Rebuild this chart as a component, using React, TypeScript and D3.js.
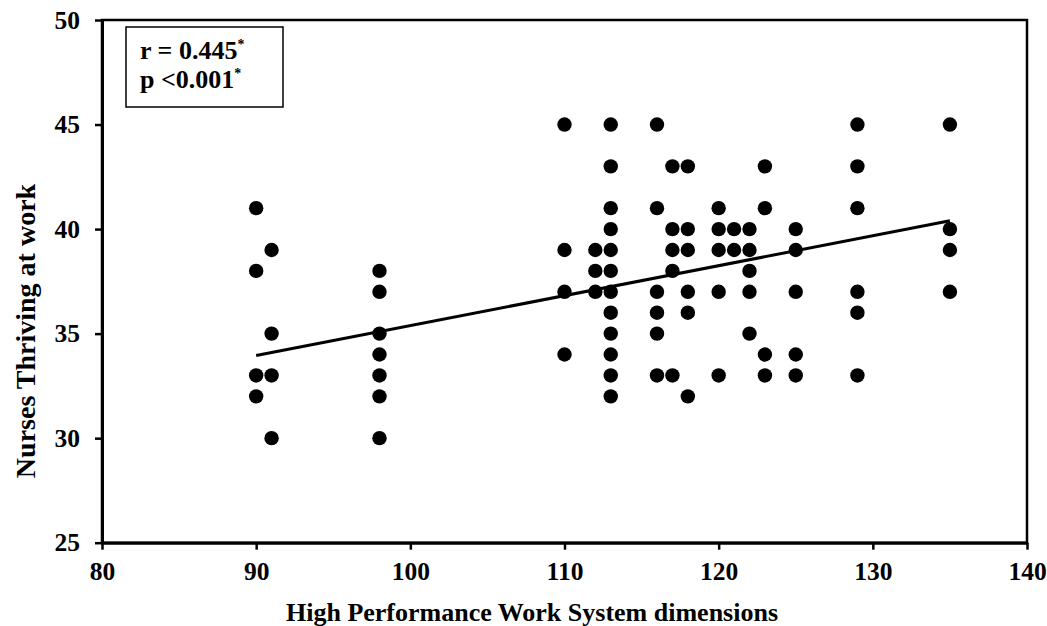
import React, { useEffect, useRef } from "react";
import * as d3 from "d3";

// HPWS score (x) and thriving score (y)
const hpws = [
  90, 90, 90, 90,
  91, 91, 91, 91,
  98, 98, 98, 98, 98, 98, 98,
  110, 110, 110, 110,
  112, 112, 112,
  113, 113, 113, 113, 113, 113, 113, 113, 113, 113, 113, 113,
  116, 116, 116, 116, 116, 116,
  117, 117, 117, 117, 117,
  118, 118, 118, 118, 118, 118,
  120, 120, 120, 120, 120,
  121, 121,
  122, 122, 122, 122, 122,
  123, 123, 123, 123,
  125, 125, 125, 125, 125,
  129, 129, 129, 129, 129, 129,
  135, 135, 135, 135,
];
const thriving = [
  41, 38, 33, 32,
  39, 35, 33, 30,
  38, 37, 35, 34, 33, 32, 30,
  45, 39, 37, 34,
  39, 38, 37,
  45, 43, 41, 40, 39, 38, 37, 36, 35, 34, 33, 32,
  45, 41, 37, 36, 35, 33,
  43, 40, 39, 38, 33,
  43, 40, 39, 37, 36, 32,
  41, 40, 39, 37, 33,
  40, 39,
  40, 39, 38, 37, 35,
  43, 41, 34, 33,
  40, 39, 37, 34, 33,
  45, 43, 41, 37, 36, 33,
  45, 40, 39, 37,
];

// fitted line end points
const trendX = [90, 135];
const trendY = [33.95, 40.4];

const xTicks = [80, 90, 100, 110, 120, 130, 140];
const yTicks = [25, 30, 35, 40, 45, 50];

const FONT = "'Liberation Serif', 'Times New Roman', serif";

export default function App() {
  const svgRef = useRef<SVGSVGElement>(null);

  useEffect(() => {
    if (!svgRef.current) return;
    const svg = d3.select(svgRef.current);
    svg.selectAll("*").remove();

    const left = 102;
    const right = 1027;
    const top = 20;
    const bottom = 542.7;

    const x = d3.scaleLinear().domain([80, 140]).range([left, right]);
    const y = d3.scaleLinear().domain([25, 50]).range([bottom, top]);

    // frame
    svg
      .append("rect")
      .attr("x", left)
      .attr("y", top)
      .attr("width", right - left)
      .attr("height", bottom - top)
      .attr("fill", "none")
      .attr("stroke", "#000")
      .attr("stroke-width", 2.5);

    // X axis
    const xAxis = svg
      .append("g")
      .attr("transform", `translate(0,${bottom})`)
      .call(d3.axisBottom(x).tickValues(xTicks).tickSize(7).tickPadding(12).tickSizeOuter(0));
    xAxis.select(".domain").attr("stroke-width", 3);
    xAxis.selectAll(".tick line").attr("stroke-width", 2.5);
    xAxis
      .selectAll(".tick text")
      .attr("font-family", FONT)
      .attr("font-weight", "bold")
      .attr("font-size", 25.5)
      .attr("fill", "#000");

    // Y axis
    const yAxis = svg
      .append("g")
      .attr("transform", `translate(${left},0)`)
      .call(d3.axisLeft(y).tickValues(yTicks).tickSize(7).tickPadding(15).tickSizeOuter(0));
    yAxis.select(".domain").attr("stroke-width", 3);
    yAxis.selectAll(".tick line").attr("stroke-width", 2.5);
    yAxis
      .selectAll(".tick text")
      .attr("font-family", FONT)
      .attr("font-weight", "bold")
      .attr("font-size", 25.5)
      .attr("fill", "#000");

    // axis titles
    svg
      .append("text")
      .attr("x", 532)
      .attr("y", 621)
      .attr("text-anchor", "middle")
      .attr("font-family", FONT)
      .attr("font-weight", "bold")
      .attr("font-size", 26)
      .text("High Performance Work System dimensions");

    svg
      .append("text")
      .attr("transform", "translate(35,331) rotate(-90)")
      .attr("text-anchor", "middle")
      .attr("font-family", FONT)
      .attr("font-weight", "bold")
      .attr("font-size", 28)
      .text("Nurses Thriving at work");

    // points
    svg
      .append("g")
      .selectAll("circle")
      .data(d3.range(hpws.length))
      .join("circle")
      .attr("cx", (i) => x(hpws[i]))
      .attr("cy", (i) => y(thriving[i]))
      .attr("r", 7.2)
      .attr("fill", "#000");

    // trend line
    const line = d3
      .line<number>()
      .x((i) => x(trendX[i]))
      .y((i) => y(trendY[i]));
    svg
      .append("path")
      .datum(d3.range(trendX.length))
      .attr("fill", "none")
      .attr("stroke", "#000")
      .attr("stroke-width", 3)
      .attr("d", line);

    // stats box
    svg
      .append("rect")
      .attr("x", 126)
      .attr("y", 27)
      .attr("width", 157)
      .attr("height", 80)
      .attr("fill", "#fff")
      .attr("stroke", "#000")
      .attr("stroke-width", 1.5);

    const stats = [
      { label: "r = 0.445", y: 59 },
      { label: "p <0.001", y: 88 },
    ];
    stats.forEach((s) => {
      const t = svg
        .append("text")
        .attr("x", 140)
        .attr("y", s.y)
        .attr("font-family", FONT)
        .attr("font-weight", "bold")
        .attr("font-size", 26);
      t.append("tspan").text(s.label);
      t.append("tspan").attr("font-size", 14).attr("dy", -10).text("*");
    });
  }, []);

  return (
    <div style={{ position: "absolute", left: 0, top: 0 }}>
      <svg ref={svgRef} width={1047} height={626} style={{ display: "block", background: "#fff" }} />
    </div>
  );
}
